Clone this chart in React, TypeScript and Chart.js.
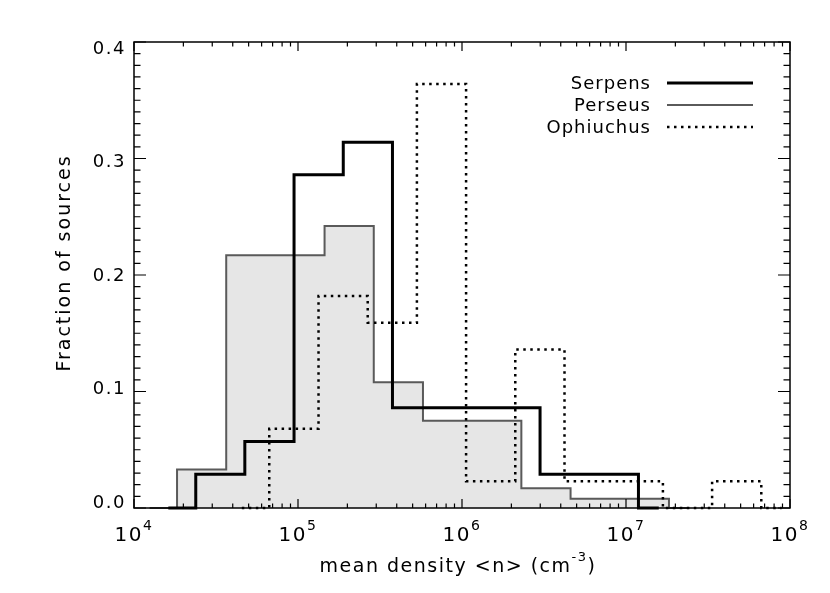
import React, { useEffect, useRef } from "react";
import { Chart, registerables } from "chart.js";

Chart.register(...registerables);

// Bin edges (cm^-3) and fraction of sources per bin
const serpensEdges = [2.38e4, 4.74e4, 9.46e4, 1.888e5, 3.767e5, 7.516e5, 1.5e6, 2.992e6, 5.97e6, 1.191e7];
const serpensFrac = [0.029, 0.057, 0.286, 0.314, 0.086, 0.086, 0.086, 0.029, 0.029];

const perseusEdges = [1.83e4, 3.65e4, 7.28e4, 1.452e5, 2.897e5, 5.781e5, 1.153e6, 2.301e6, 4.592e6, 9.162e6, 1.828e7];
const perseusFrac = [0.033, 0.217, 0.217, 0.242, 0.108, 0.075, 0.075, 0.017, 0.008, 0.008];

const ophiuchusEdges = [6.68e4, 1.334e5, 2.661e5, 5.309e5, 1.059e6, 2.113e6, 4.217e6, 8.414e6, 1.679e7, 3.35e7, 6.683e7];
const ophiuchusFrac = [0.068, 0.182, 0.159, 0.364, 0.023, 0.136, 0.023, 0.023, 0.0, 0.023];

const seriesNames = ["Serpens", "Perseus", "Ophiuchus"];
const xTickExponents = ["4", "5", "6", "7", "8"];
const yTickLabels = ["0.0", "0.1", "0.2", "0.3", "0.4"];
const xTitle = "mean density <n> (cm";
const xTitleSup = "-3";
const yTitle = "Fraction of sources";

const FONT = '"DejaVu Sans", "Liberation Sans", sans-serif';

function stepPoints(edges: number[], frac: number[]) {
  const pts: { x: number; y: number }[] = [];
  pts.push({ x: edges[0] / 1.47, y: 0 });
  frac.forEach((f, i) => pts.push({ x: edges[i], y: f }));
  const last = edges[edges.length - 1];
  pts.push({ x: last, y: 0 });
  pts.push({ x: last * 1.33, y: 0 });
  return pts;
}

const idlPlugin = {
  id: "idlAxes",
  afterDraw(chart: any) {
    const ctx: CanvasRenderingContext2D = chart.ctx;
    const { left, right, top, bottom } = chart.chartArea;
    const xs = chart.scales.x;
    const ys = chart.scales.y;
    ctx.save();
    ctx.strokeStyle = "#000";
    ctx.fillStyle = "#000";
    ctx.lineWidth = 1.5;
    ctx.strokeRect(left, top, right - left, bottom - top);

    // x ticks (log decades with minor ticks), bottom and top
    ctx.lineWidth = 1.2;
    const x0 = Math.round(Math.log10(xs.min));
    const x1 = Math.round(Math.log10(xs.max));
    for (let e = x0; e <= x1; e++) {
      for (let m = 1; m < 10; m++) {
        const v = m * Math.pow(10, e);
        if (v > xs.max * 1.0001) break;
        const px = xs.getPixelForValue(v);
        const len = m === 1 ? 9 : 4.5;
        ctx.beginPath();
        ctx.moveTo(px, bottom);
        ctx.lineTo(px, bottom - len);
        ctx.moveTo(px, top);
        ctx.lineTo(px, top + len);
        ctx.stroke();
      }
    }
    // y ticks, left and right
    for (let k = 0; k <= 40; k++) {
      const v = k / 100;
      const py = ys.getPixelForValue(v);
      const len = k % 10 === 0 ? 12 : 6.5;
      ctx.beginPath();
      ctx.moveTo(left, py);
      ctx.lineTo(left + len, py);
      ctx.moveTo(right, py);
      ctx.lineTo(right - len, py);
      ctx.stroke();
    }

    (ctx as any).letterSpacing = "1.5px";
    // y tick labels
    ctx.font = `18px ${FONT}`;
    ctx.textAlign = "right";
    ctx.textBaseline = "middle";
    yTickLabels.forEach((lab) => {
      const v = parseFloat(lab);
      const py = ys.getPixelForValue(v) + (v - 0.2) * 30 + 1;
      ctx.fillText(lab, left - 8, py);
    });

    // x tick labels 10^n
    ctx.textAlign = "left";
    ctx.textBaseline = "alphabetic";
    xTickExponents.forEach((ex) => {
      const px = xs.getPixelForValue(Math.pow(10, parseFloat(ex)));
      ctx.font = `20px ${FONT}`;
      const wb = ctx.measureText("10").width;
      ctx.font = `14px ${FONT}`;
      const we = ctx.measureText(ex).width;
      const sx = px - (wb + we) / 2;
      ctx.font = `20px ${FONT}`;
      ctx.fillText("10", sx, bottom + 33);
      ctx.font = `14px ${FONT}`;
      ctx.fillText(ex, sx + wb, bottom + 22);
    });

    // x title with superscript
    ctx.font = `19px ${FONT}`;
    const wMain = ctx.measureText(xTitle).width;
    const wParen = ctx.measureText(")").width;
    ctx.font = `13px ${FONT}`;
    const wSup = ctx.measureText(xTitleSup).width;
    const total = wMain + wSup + wParen;
    const cx = (left + right) / 2 - 4;
    let tx = cx - total / 2;
    const ty = 572;
    ctx.font = `19px ${FONT}`;
    ctx.fillText(xTitle, tx, ty);
    tx += wMain;
    ctx.font = `13px ${FONT}`;
    ctx.fillText(xTitleSup, tx, ty - 11);
    tx += wSup;
    ctx.font = `19px ${FONT}`;
    ctx.fillText(")", tx, ty);

    // y title rotated
    ctx.save();
    ctx.translate(65, 263);
    ctx.rotate(-Math.PI / 2);
    ctx.textAlign = "center";
    ctx.textBaseline = "middle";
    ctx.font = `19px ${FONT}`;
    (ctx as any).letterSpacing = "2px";
    ctx.fillText(yTitle, 0, 0);
    ctx.restore();

    // legend
    (ctx as any).letterSpacing = "1px";
    ctx.font = `18px ${FONT}`;
    ctx.textAlign = "right";
    ctx.textBaseline = "middle";
    const dsets = chart.data.datasets;
    const legendRows = [83, 105, 127];
    seriesNames.forEach((name, i) => {
      const ds = dsets.find((d: any) => d.label === name);
      const y = legendRows[i];
      ctx.fillStyle = "#000";
      ctx.fillText(name, 651, y + 1);
      ctx.save();
      ctx.strokeStyle = ds.borderColor;
      ctx.lineWidth = ds.borderWidth;
      ctx.setLineDash(ds.borderDash || []);
      ctx.beginPath();
      ctx.moveTo(667, y);
      ctx.lineTo(753, y);
      ctx.stroke();
      ctx.restore();
    });
    ctx.restore();
  },
};

export default function App() {
  const canvasRef = useRef<HTMLCanvasElement | null>(null);

  useEffect(() => {
    const canvas = canvasRef.current;
    if (!canvas) return;
    const chart = new Chart(canvas, {
      type: "line",
      data: {
        datasets: [
          {
            label: "Serpens",
            data: stepPoints(serpensEdges, serpensFrac),
            stepped: true,
            borderColor: "#000000",
            borderWidth: 3,
            pointRadius: 0,
            fill: false,
            clip: 6,
          },
          {
            label: "Ophiuchus",
            data: stepPoints(ophiuchusEdges, ophiuchusFrac),
            stepped: true,
            borderColor: "#000000",
            borderWidth: 2.5,
            borderDash: [2.5, 4.5],
            pointRadius: 0,
            fill: false,
            clip: 6,
          },
          {
            label: "Perseus",
            data: stepPoints(perseusEdges, perseusFrac),
            stepped: true,
            borderColor: "#5a5a5a",
            borderWidth: 2,
            backgroundColor: "#e6e6e6",
            pointRadius: 0,
            fill: "origin",
            clip: 6,
          },
        ] as any,
      },
      options: {
        animation: false,
        responsive: false,
        devicePixelRatio: 1,
        layout: { padding: { left: 134, top: 42, right: 40, bottom: 85 } },
        scales: {
          x: { type: "logarithmic", min: 1e4, max: 1e8, display: false },
          y: { type: "linear", min: 0, max: 0.4, display: false },
        },
        plugins: {
          legend: { display: false },
          tooltip: { enabled: false },
        },
        events: [],
      } as any,
      plugins: [idlPlugin],
    });
    return () => chart.destroy();
  }, []);

  return (
    <div style={{ position: "absolute", left: 0, top: 0, width: 830, height: 593, background: "#fff" }}>
      <canvas ref={canvasRef} width={830} height={593} style={{ display: "block" }} />
    </div>
  );
}
